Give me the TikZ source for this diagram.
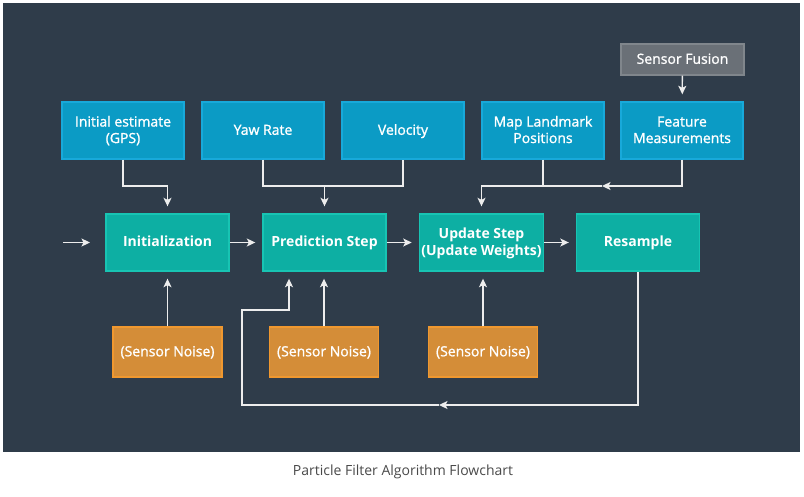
\documentclass[tikz,border=0pt]{standalone}
\usepackage{fontspec}
\setmainfont{Open Sans}
\newfontfamily\semib[FakeBold=1.2]{Open Sans}
\usetikzlibrary{arrows.meta,calc}
\newcommand\mystrut{\rule[-3.4pt]{0pt}{15.4pt}}
\definecolor{bg}{HTML}{2F3C4A}
\definecolor{bluef}{HTML}{0B9BC5}
\definecolor{blueb}{HTML}{18A9DA}
\definecolor{greenf}{HTML}{0DAFA3}
\definecolor{greenb}{HTML}{18C4B3}
\definecolor{orangef}{HTML}{D48D38}
\definecolor{orangeb}{HTML}{F0982F}
\definecolor{grayf}{HTML}{6A7077}
\definecolor{grayb}{HTML}{80868C}
\definecolor{linec}{HTML}{EDEDED}
\definecolor{captc}{HTML}{4A4A4A}
\tikzset{
  box/.style={draw, line width=1.4pt, text=white, align=center, inner sep=2pt,
    font=\fontsize{14}{16.5}\selectfont\semib},
  inbox/.style={box, fill=bluef, draw=blueb, minimum width=122pt, minimum height=57pt},
  stepbox/.style={box, fill=greenf, draw=greenb, minimum width=123pt, minimum height=57pt,
    font=\fontsize{14}{16.5}\selectfont\bfseries},
  noisebox/.style={box, fill=orangef, draw=orangeb, minimum width=109pt, minimum height=50pt},
  fusebox/.style={box, fill=grayf, draw=grayb, minimum width=123pt, minimum height=31pt},
  conn/.style={draw=linec, line width=1.3pt},
  arr/.style={conn, -{Stealth[length=8.5pt,width=8pt,inset=2pt]}},
  arrs/.style={arr, shorten >=7pt},
}
\begin{document}
\begin{tikzpicture}[x=1pt,y=-1pt]
\useasboundingbox (0,0) rectangle (804,496);
\fill[white] (0,0) rectangle (804,496);
\fill[bg] (3,3) rectangle (800,452);

% input boxes
\node[inbox] (gps)  at (123,130.5) {\mystrut Initial estimate\\\mystrut(GPS)};
\node[inbox] (yaw)  at (263,130.5) {\mystrut Yaw Rate};
\node[inbox] (vel)  at (403,130.5) {\mystrut Velocity};
\node[inbox] (map)  at (543,130.5) {\mystrut Map Landmark\\\mystrut Positions};
\node[inbox] (feat) at (682,130.5) {\mystrut Feature\\\mystrut Measurements};
\node[fusebox] (fus) at (682.5,59.5) {\mystrut Sensor Fusion};

% step boxes
\node[stepbox] (ini)  at (167.5,242.5) {\mystrut Initialization};
\node[stepbox] (pred) at (324.5,242.5) {\mystrut Prediction Step};
\node[stepbox] (upd)  at (481.5,242.5) {\mystrut Update Step\\\mystrut(Update Weights)};
\node[stepbox] (res)  at (638,242.5) {\mystrut Resample};

% noise boxes
\node[noisebox] (n1) at (167.5,352) {\mystrut(Sensor Noise)};
\node[noisebox] (n2) at (324,352) {\mystrut(Sensor Noise)};
\node[noisebox] (n3) at (483,352) {\mystrut(Sensor Noise)};

% helper coordinates
\coordinate (row) at (0,186);
\coordinate (start) at (63,242.5);
\coordinate (starte) at (90,242.5);
\coordinate (fm) at (602,186);
\coordinate (lm) at (439,405);
\coordinate (lb) at (242,405);
\coordinate (lu) at (242,310);
\coordinate (lr) at (289,310);

% main flow
\draw[arr] (start) -- (starte);
\draw[arrs] (ini) -- (pred);
\draw[arrs] (pred) -- (upd);
\draw[arrs] (upd) -- (res);

% inputs
\draw[arrs] (gps.south) -- (gps.south |- row) -| (ini.north);
\draw[conn] (yaw.south) -- (yaw.south |- row) -| (vel.south);
\draw[arrs] (pred.north |- row) -- (pred.north);
\draw[arr] (feat.south) |- (fm);
\draw[arrs] (fm) -| (upd.north);
\draw[conn] (map.south) -- (map.south |- row);
\draw[arrs] (fus) -- (feat);

% noise
\draw[arrs] (n1) -- (ini);
\draw[arrs] (n2.north) -- (n2.north |- pred.south);
\draw[arrs] (n3.north) -- (n3.north |- upd.south);

% resample loop
\draw[arr] (res.south) |- (lm);
\draw[arrs] (lm) -- (lb) -- (lu) -- (lr) -- (lr |- pred.south);

% caption
\node[text=captc, font=\fontsize{14}{16}\selectfont] (cap) at (403,471.5) {Particle Filter Algorithm Flowchart};
\end{tikzpicture}
\end{document}
